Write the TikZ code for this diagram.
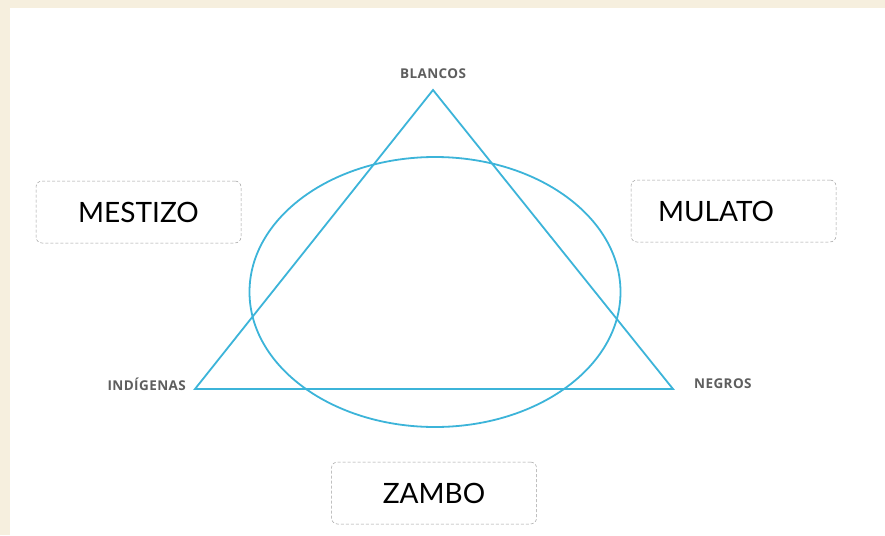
\documentclass[tikz,border=0pt]{standalone}
\usepackage{fontspec}
\setmainfont{Lato}
\newfontfamily\verticefont[LetterSpace=3]{Open Sans}
\usetikzlibrary{positioning}
\definecolor{marco}{HTML}{F6EFDE}
\definecolor{trilinea}{HTML}{3CB4D9}
\definecolor{etiqueta}{HTML}{5E5E5E}

\begin{document}
\begin{tikzpicture}[x=1pt,y=-1pt,
		caja/.style={draw=gray!75,densely dashed,line width=0.5pt,rounded corners=6pt,
			minimum width=205pt,minimum height=62pt,font=\fontsize{28}{28}\selectfont},
		vertice/.style={font=\verticefont\bfseries\fontsize{13.5}{13.5}\selectfont,text=etiqueta,inner sep=2pt}]
	% fondo
	\fill[marco] (0,0) rectangle (885,535);
	\fill[white] (10,8) rectangle (885,535);

	% triangulo y elipse
	\coordinate (blancos) at (433,90);
	\coordinate (indigenas) at (195,389);
	\coordinate (negros) at (673,389);
	\coordinate (centro) at (435,292);
	\draw[trilinea,line width=1.8pt,line join=miter] (blancos) -- (negros) -- (indigenas) -- cycle;
	\draw[trilinea,line width=1.8pt] (centro) ellipse [x radius=185.5pt,y radius=135pt];

	\node[vertice,above=9pt of blancos] (lblancos) {BLANCOS};
	\node[vertice,anchor=east] (lindigenas) at (188,384) {IND\'IGENAS};
	\node[vertice,anchor=west] (lnegros) at (692,384) {NEGROS};

	% mezclas
	\node[caja] (mestizo) at (138.5,212) {MESTIZO};
	\node[caja,text width=151pt,inner xsep=27pt,align=left] (mulato) at (733.5,211) {MULATO};
	\node[caja] (zambo) at (434,493) {ZAMBO};
\end{tikzpicture}
\end{document}
